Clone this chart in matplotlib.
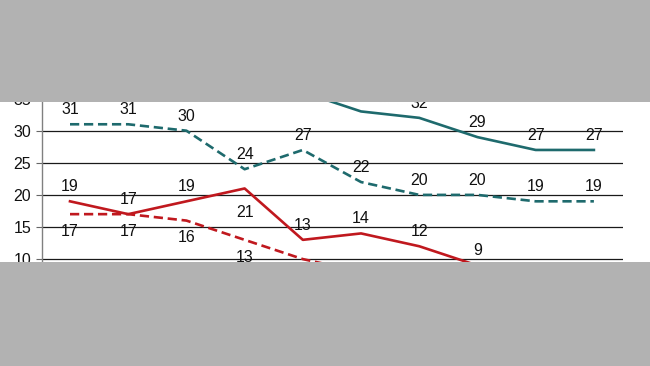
import matplotlib
matplotlib.use('Agg')
import matplotlib.pyplot as plt
from matplotlib.patches import Rectangle
import numpy as np

# values per period (parts above/below the visible window are estimates)
positions = np.arange(10)
teal_solid = [38, 39, 38, 37, 36, 33, 32, 29, 27, 27]
teal_dashed = [31, 31, 30, 24, 27, 22, 20, 20, 19, 19]
red_solid = [19, 17, 19, 21, 13, 14, 12, 9, 6, 5]
red_dashed = [17, 17, 16, 13, 10, 8, 7, 7, 6, 6]

# where each label goes: 1 above, -1 below
teal_solid_side = [1] * 10
teal_dashed_side = [1] * 10
red_solid_side = [1, 1, 1, -1, 1, 1, 1, 1, 1, 1]
red_dashed_side = [-1] * 10

yticks = [5, 10, 15, 20, 25, 30, 35, 40]

TEAL = '#1e6a6d'
RED = '#c0181e'
GRAY = '#b2b2b2'

plt.rcParams['font.family'] = ['Liberation Sans', 'DejaVu Sans']

fig = plt.figure(figsize=(6.5, 3.66), dpi=100)
fig.patch.set_facecolor('white')

# plot area in pixels: x 42..623, value 40 -> y 66.5, value 5 -> y 291.2
W, H = 650, 366
ax = fig.add_axes([42 / W, (H - 291.2) / H, (623 - 42) / W, (291.2 - 66.5) / H])
ax.set_xlim(-0.481, 9.5)
ax.set_ylim(5, 40)

for y in yticks:
    ax.axhline(y, color='#1a1a1a', lw=0.9, zorder=1)

ax.plot(positions, teal_solid, color=TEAL, lw=1.9, zorder=3)
ax.plot(positions, teal_dashed, color=TEAL, lw=1.9, ls=(0, (3.5, 1.8)), zorder=3)
ax.plot(positions, red_solid, color=RED, lw=1.9, zorder=3)
ax.plot(positions, red_dashed, color=RED, lw=1.9, ls=(0, (3.5, 1.8)), zorder=3)


def add_labels(vals, sides, below_off=12.5, overrides=None):
    for i, (v, s) in enumerate(zip(vals, sides)):
        off = 10.5 if s > 0 else -below_off
        if overrides and i in overrides:
            off = overrides[i]
        ax.annotate(str(v), (i, v), xytext=(0, off), textcoords='offset points',
                    ha='center', va='center', fontsize=11.5, color='#111111',
                    zorder=4)


add_labels(teal_solid, teal_solid_side)
add_labels(teal_dashed, teal_dashed_side)
add_labels(red_solid, red_solid_side, overrides={3: -17})
add_labels(red_dashed, red_dashed_side)

ax.set_xticks([])
ax.set_yticks(yticks)
ax.tick_params(axis='y', length=4.3, width=0.8, pad=3.6, labelsize=11.5,
               color='#666666', labelcolor='#111111')
for side in ['top', 'right', 'bottom']:
    ax.spines[side].set_visible(False)
ax.spines['left'].set_color('#808080')
ax.spines['left'].set_linewidth(1.0)

# grey bands that crop the chart
fig.patches.append(Rectangle((0, (H - 102) / H), 1, 102 / H, transform=fig.transFigure,
                             facecolor=GRAY, edgecolor='none', zorder=10))
fig.patches.append(Rectangle((0, 0), 1, (H - 262) / H, transform=fig.transFigure,
                             facecolor=GRAY, edgecolor='none', zorder=10))

fig.savefig('out.png', dpi=100)
